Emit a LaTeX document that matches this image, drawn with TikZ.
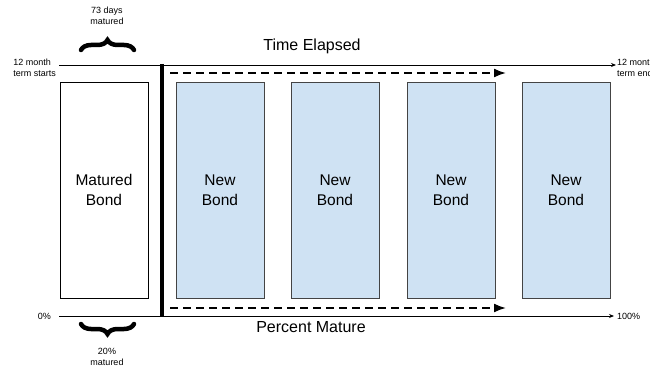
\documentclass[tikz,border=0pt]{standalone}
\usepackage{fontspec}
\setmainfont{Liberation Sans}
\usetikzlibrary{arrows.meta,decorations.pathreplacing}
\definecolor{bondblue}{HTML}{CFE2F3}
\definecolor{bondedge}{HTML}{444444}
\tikzset{
  bondbox/.style={draw=bondedge, line width=0.8pt, fill=bondblue, minimum width=88pt, minimum height=216pt, inner sep=0pt, font=\fontsize{15.5}{20}\selectfont, align=center},
  maturedbox/.style={bondbox, fill=white, draw=black},
  smalltxt/.style={font=\fontsize{9}{11.5}\selectfont, align=center, inner sep=0pt},
  bigtxt/.style={font=\fontsize{16}{19}\selectfont, inner sep=0pt},
  axisline/.style={line width=0.9pt, -{Stealth[length=5pt,width=4pt]}},
  dasharrow/.style={line width=1.8pt, dash pattern=on 8pt off 5pt, -{Latex[length=12pt,width=9pt]}},
  bracestyle/.style={line width=4.5pt, line cap=round, decorate, decoration={brace, amplitude=10pt}},
}
\begin{document}
\begin{tikzpicture}[x=1pt,y=-1pt]
\useasboundingbox (0,0) rectangle (650,371);
\fill[white] (0,0) rectangle (650,371);
% axis coordinates
\coordinate (tl) at (59,65);
\coordinate (tr) at (616,65);
\coordinate (bl) at (59,316);
\coordinate (br) at (614,316);
\coordinate (vt) at (162,64);
\coordinate (vb) at (162,317);
\coordinate (dts) at (170,73);
\coordinate (dte) at (506,73);
\coordinate (dbs) at (170,308);
\coordinate (dbe) at (506,308);
% lines
\draw[axisline] (tl) -- (tr);
\draw[axisline] (bl) -- (br);
\draw[line width=3.5pt] (vt) -- (vb);
\draw[dasharrow] (dts) -- (dte);
\draw[dasharrow] (dbs) -- (dbe);
% boxes
\node[maturedbox] (m) at (104,190) {Matured\\Bond};
\node[bondbox] (n1) at (220,190) {New\\Bond};
\node[bondbox] (n2) at (335,190) {New\\Bond};
\node[bondbox] (n3) at (451,190) {New\\Bond};
\node[bondbox] (n4) at (566,190) {New\\Bond};
% braces
\coordinate (bt1) at (81,50);
\coordinate (bt2) at (134,50);
\coordinate (bb1) at (134,324);
\coordinate (bb2) at (81,324);
\draw[bracestyle] (bt1) -- (bt2);
\draw[bracestyle] (bb1) -- (bb2);
% texts
\node[smalltxt] (t73) at (107,16) {73 days\\matured};
\node[smalltxt] (t20) at (107,357) {20\%\\matured};
\node[smalltxt, align=left, anchor=east] (tstart) at (56,68) {12 month\\term starts};
\node[smalltxt, align=left, anchor=west] (tend) at (617,68) {12 month\\term ends};
\node[smalltxt, anchor=east] (t0) at (51,316) {0\%};
\node[smalltxt, anchor=west] (t100) at (617,316) {100\%};
\node[bigtxt] (te) at (312,46) {Time Elapsed};
\node[bigtxt] (pm) at (311,327) {Percent Mature};
\end{tikzpicture}
\end{document}
